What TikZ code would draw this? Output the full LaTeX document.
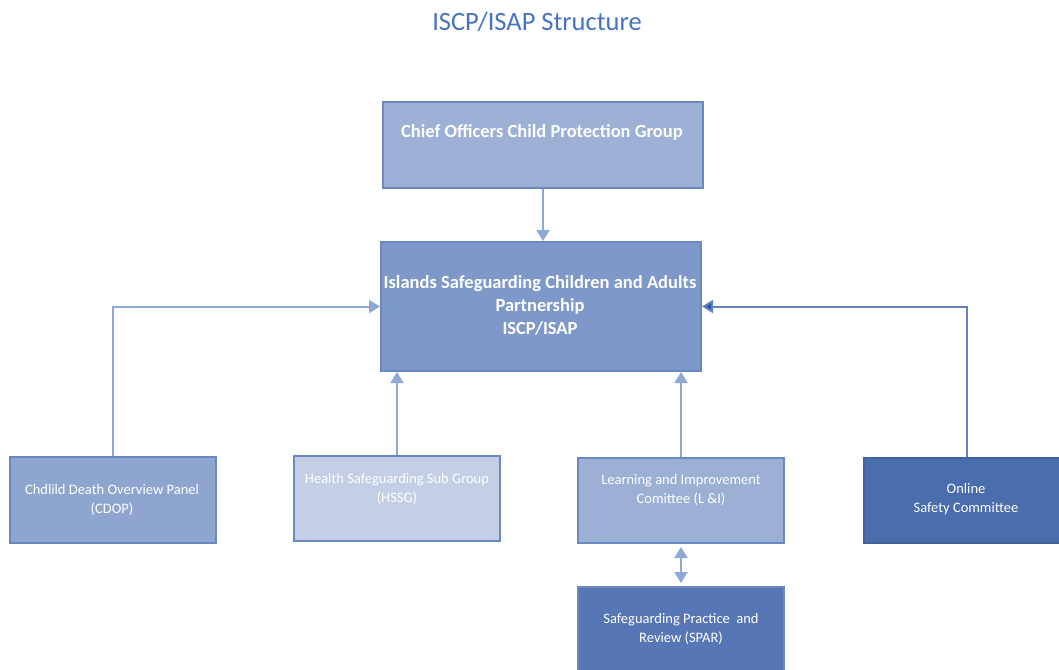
\documentclass[tikz,border=0pt]{standalone}
\usepackage{fontspec}
\setmainfont{Carlito}
\usepackage{xcolor}
\usepackage{tikz}
\usetikzlibrary{
  arrows.meta
}

\definecolor{titleblue}{HTML}{4472C4}
\definecolor{boxline}{HTML}{6A88C2}
\definecolor{chieffill}{HTML}{9DB0D6}
\definecolor{iscpfill}{HTML}{7D98C9}
\definecolor{cdopfill}{HTML}{8EA5CF}
\definecolor{hssgfill}{HTML}{C4CFE5}
\definecolor{lifill}{HTML}{9CAFD4}
\definecolor{onlinefill}{HTML}{4A6DAD}
\definecolor{sparfill}{HTML}{5676B6}
\definecolor{linklight}{HTML}{8FA8D5}
\definecolor{linkdark}{HTML}{6282C0}
\definecolor{headdark}{HTML}{2F54A0}

\begin{document}
\begin{tikzpicture}[%詳細設定
          x=1pt,y=-1pt,
          box/.style={
              draw=boxline,
              line width=2pt,
              inner sep=0pt,
              anchor=north west,
              minimum width=#1
            },box/.default=206pt,
          bigtext/.style={
              text=white,
              align=center,
              font=\bfseries\fontsize{18.5}{23}\selectfont
            },smalltext/.style={
              text=white,
              align=center,
              font=\fontsize{14.5}{19}\selectfont
            },link/.style={
              draw=linklight,
              line width=2pt,
              -{Triangle[width=13pt,length=11pt]}
            }
        ]

        % 画像の範囲
        \useasboundingbox (0,0) rectangle (1059,669);
        \clip (0,0) rectangle (1059,669);

        % タイトル
        \node[text=titleblue, font=\fontsize{26.5}{30}\selectfont] (title) at (537,22) {ISCP/ISAP Structure};

        % 箱の描画
        \node[box=320pt, fill=chieffill, minimum height=86pt] (chief) at (382,101) {};
        \node[box=320pt, fill=iscpfill, minimum height=129pt] (iscp) at (380,241) {};
        \node[box, fill=cdopfill, minimum height=86pt] (cdop) at (9,456) {};
        \node[box, fill=hssgfill, minimum height=85pt] (hssg) at (293,455) {};
        \node[box, fill=lifill, minimum height=85pt] (li) at (577,457) {};
        \node[box, fill=onlinefill, draw=onlinefill!90!black, minimum height=85pt] (online) at (863,457) {};
        \node[box, fill=sparfill, minimum height=90pt] (spar) at (577,586) {};

        % 文字
        \node[bigtext] (chief-t) at (542,132) {Chief Officers Child Protection Group};
        \node[bigtext] (iscp-t) at (540,305) {Islands Safeguarding Children and Adults\\Partnership\\ISCP/ISAP};
        \node[smalltext] (cdop-t) at (112,500) {Chdlild Death Overview Panel\\(CDOP)};
        \node[smalltext] (hssg-t) at (397,489) {Health Safeguarding Sub Group\\(HSSG)};
        \node[smalltext] (li-t) at (681,490) {Learning and Improvement\\Comittee (L \&I)};
        \node[smalltext] (online-t) at (966,499) {Online\\Safety Committee};
        \node[smalltext] (spar-t) at (681,629) {Safeguarding Practice~ and\\Review (SPAR)};

        % 矢印
        \draw[link] (chief.south) -- (chief.south |- iscp.north);
        \draw[link] (cdop.north) |- (iscp.west);
        \draw[link] (hssg.north) -- (hssg.north |- iscp.south);
        \draw[link] (li.north) -- (li.north |- iscp.south);
        \draw[
          link,
          draw=linkdark,
          -{Triangle[width=13pt,length=11pt,fill=headdark]}
        ] (online.north) |- (iscp.east);
        \draw[
          link,
          {Triangle[width=13pt,length=11pt]}-{Triangle[width=13pt,length=11pt]}
        ] ([yshift=-3pt]li.south) -- ([yshift=3pt]spar.north);
      \end{tikzpicture}
\end{document}
